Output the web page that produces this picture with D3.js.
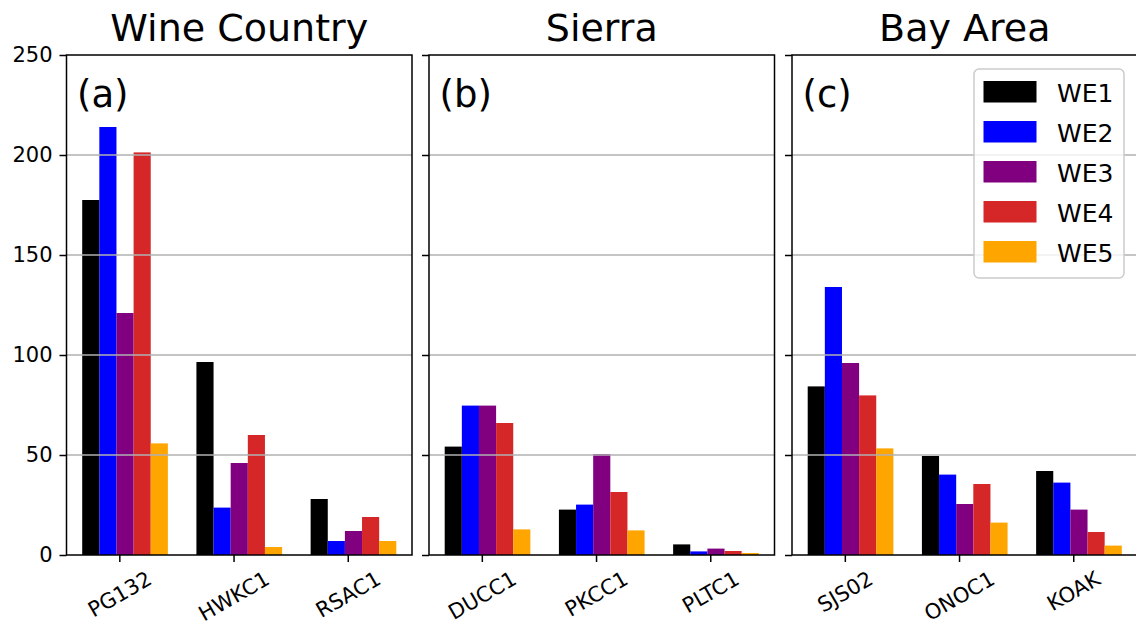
<!DOCTYPE html>
<html>
<head>
<meta charset="utf-8">
<script src="https://cdn.jsdelivr.net/npm/d3@7"></script>
<style>
  html, body { margin: 0; padding: 0; background: #fff; }
  svg { display: block; font-family: "DejaVu Sans", sans-serif; }
</style>
</head>
<body>
<svg id="chart" width="1136" height="629"></svg>
<script>
// Region panels and their stations
const regions = ["Wine Country", "Sierra", "Bay Area"];
const panelLetters = ["(a)", "(b)", "(c)"];
const stations = [
  ["PG132", "HWKC1", "RSAC1"],
  ["DUCC1", "PKCC1", "PLTC1"],
  ["SJS02", "ONOC1", "KOAK"]
];

// Values per event, in station order (a, b, c panels concatenated)
const seriesNames = ["WE1", "WE2", "WE3", "WE4", "WE5"];
const WE1 = [177.5, 96.5, 28.0, 54.2, 22.7, 5.3, 84.3, 49.5, 42.0];
const WE2 = [214.0, 23.7, 7.0, 74.7, 25.2, 1.8, 134.0, 40.2, 36.2];
const WE3 = [121.0, 46.0, 12.0, 74.7, 50.5, 3.2, 96.0, 25.5, 22.7];
const WE4 = [201.3, 60.0, 19.0, 66.0, 31.5, 2.0, 79.8, 35.5, 11.5];
const WE5 = [55.8, 4.0, 7.0, 12.8, 12.3, 1.0, 53.3, 16.2, 4.7];
const seriesValues = [WE1, WE2, WE3, WE4, WE5];
const seriesColors = ["#000000", "#0000ff", "#800080", "#d62728", "#ffa500"];

const yTicks = [0, 50, 100, 150, 200, 250];

const svg = d3.select("#chart");

const panelLefts = [66.5, 429, 792];
const panelWidth = 345.5;
const plotTop = 55, plotBottom = 555;
const barWidth = 0.15;
const firstOffset = -0.25;

const y = d3.scaleLinear().domain([0, 250]).range([plotBottom, plotTop]);

panelLefts.forEach((left, p) => {
  const x = d3.scaleLinear()
    .domain([-0.4625, 2.5625])
    .range([left, left + panelWidth]);

  const g = svg.append("g");

  // bars
  seriesValues.forEach((vals, k) => {
    g.selectAll(null)
      .data(stations[p].map((s, i) => ({ i, v: vals[p * 3 + i] })))
      .join("rect")
      .attr("x", d => x(d.i + firstOffset + k * barWidth - barWidth / 2))
      .attr("width", d => x(barWidth) - x(0))
      .attr("y", d => y(d.v))
      .attr("height", d => y(0) - y(d.v))
      .attr("fill", seriesColors[k]);
  });

  // horizontal grid
  g.selectAll(null)
    .data(yTicks.slice(1, -1))
    .join("line")
    .attr("x1", left).attr("x2", left + panelWidth)
    .attr("y1", d => y(d)).attr("y2", d => y(d))
    .attr("stroke", "#b0b0b0")
    .attr("stroke-width", 1.5);

  // y axis (labels only on first panel)
  const yAxis = d3.axisLeft(y).tickValues(yTicks).tickSize(7).tickPadding(7)
    .tickFormat(p === 0 ? d3.format("d") : () => "");
  const ya = g.append("g").attr("transform", `translate(${left},0)`).call(yAxis);
  ya.select(".domain").remove();
  ya.selectAll(".tick line").attr("stroke", "#000").attr("stroke-width", 1.5);
  ya.selectAll(".tick text").attr("font-size", 21).attr("fill", "#000")
    .attr("font-family", "DejaVu Sans");

  // x axis with rotated station names
  const xAxis = d3.axisBottom(x).tickValues([0, 1, 2]).tickSize(7)
    .tickFormat(i => stations[p][i]);
  const xa = g.append("g").attr("transform", `translate(0,${plotBottom})`).call(xAxis);
  xa.select(".domain").remove();
  xa.selectAll(".tick line").attr("stroke", "#000").attr("stroke-width", 1.5);
  xa.selectAll(".tick text").each(function () {
    const t = d3.select(this);
    t.attr("font-size", 21).attr("fill", "#000").attr("font-family", "DejaVu Sans");
    const w = this.getComputedTextLength();
    const h = 21 * 1.0;
    const a = Math.PI / 6;
    const bh = w * Math.sin(a) + h * Math.cos(a);
    t.attr("text-anchor", "middle").attr("dy", null)
      .attr("dominant-baseline", "central")
      .attr("y", 0)
      .attr("transform", `translate(0,${13 + bh / 2}) rotate(-30)`);
  });

  // frame
  g.append("rect")
    .attr("x", left).attr("y", plotTop)
    .attr("width", panelWidth).attr("height", plotBottom - plotTop)
    .attr("fill", "none").attr("stroke", "#000").attr("stroke-width", 1.5);

  // title
  g.append("text")
    .attr("x", left + panelWidth / 2).attr("y", 41)
    .attr("text-anchor", "middle")
    .attr("font-size", 38)
    .attr("fill", "#000")
    .text(regions[p]);

  // panel letter
  g.append("text")
    .attr("x", left + 10.5).attr("y", 107)
    .attr("font-size", 37)
    .attr("fill", "#000")
    .text(panelLetters[p]);
});

// legend in the last panel
const leg = svg.append("g");
const legX = 974, legY = 69;
leg.append("rect")
  .attr("x", legX).attr("y", legY)
  .attr("width", 150).attr("height", 209)
  .attr("rx", 5)
  .attr("fill", "#fff").attr("fill-opacity", 0.8)
  .attr("stroke", "#cccccc").attr("stroke-width", 1.5);
seriesNames.forEach((name, k) => {
  const top = 81 + k * 40;
  leg.append("rect")
    .attr("x", 983.5).attr("y", top)
    .attr("width", 53).attr("height", 21.5)
    .attr("fill", seriesColors[k]);
  leg.append("text")
    .attr("x", 1057).attr("y", top + 21)
    .attr("font-size", 25)
    .attr("fill", "#000")
    .text(name);
});
</script>
</body>
</html>
